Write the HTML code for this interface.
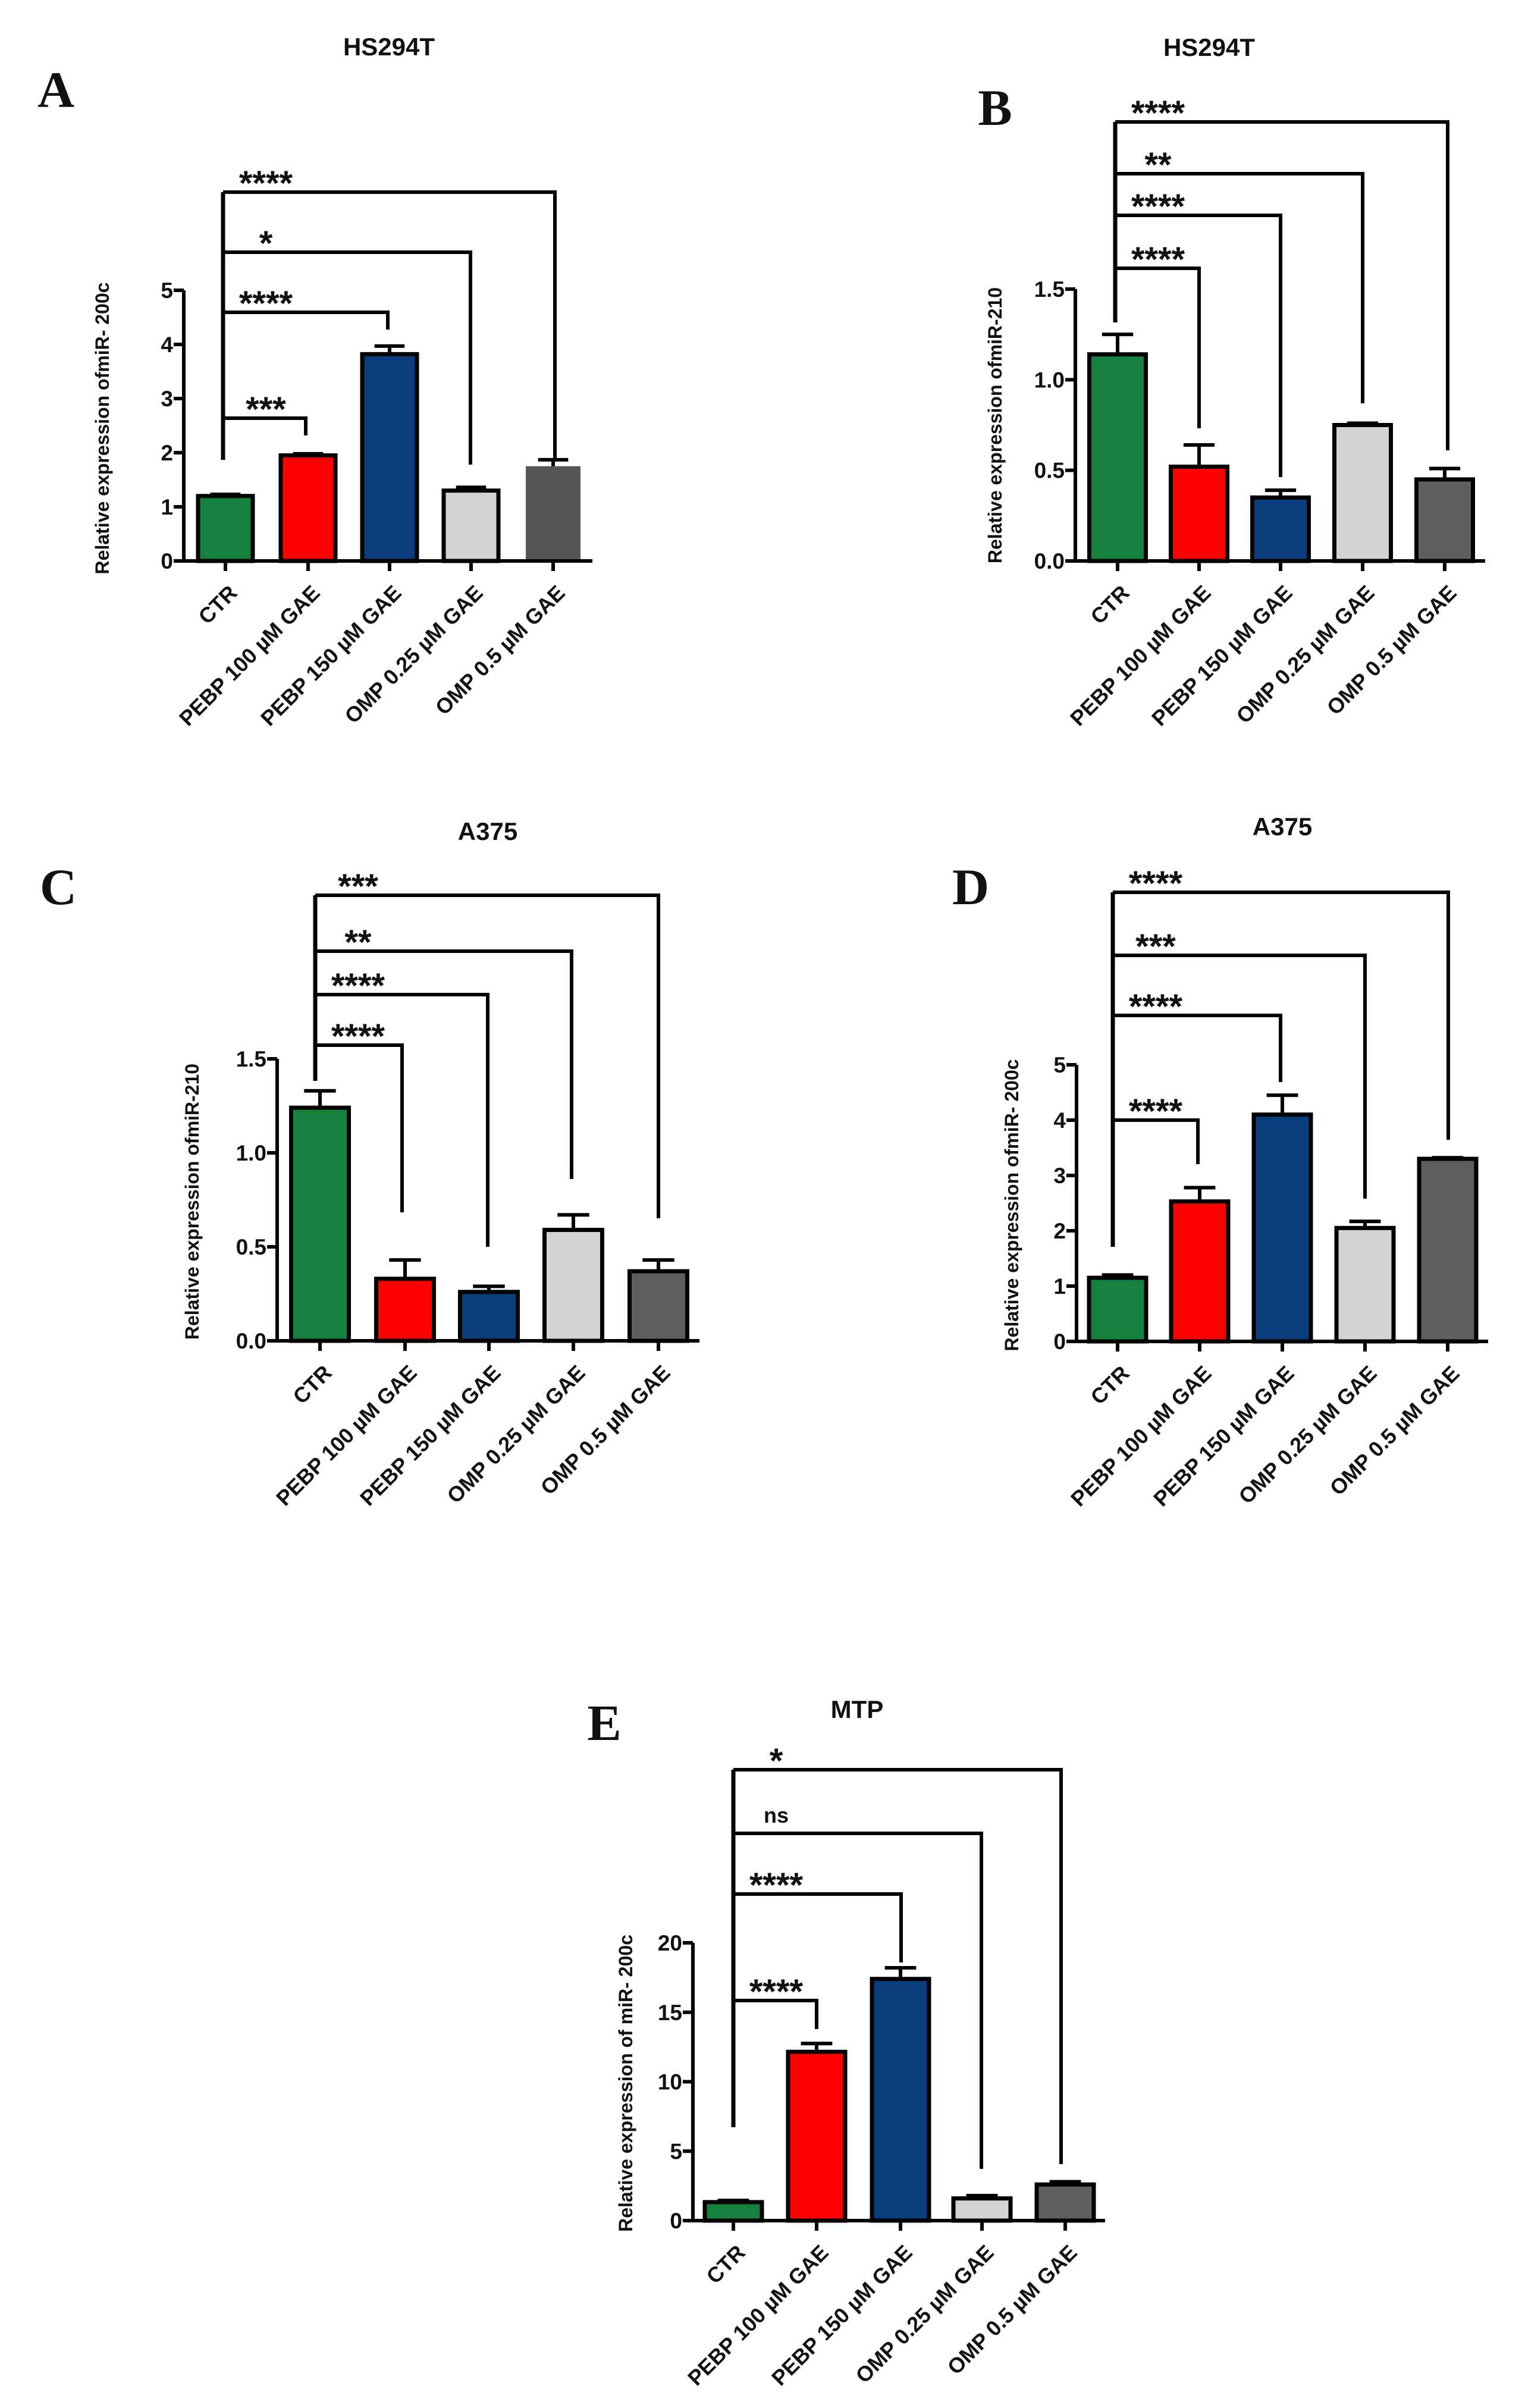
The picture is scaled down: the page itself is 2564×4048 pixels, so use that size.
<!DOCTYPE html>
<html><head><meta charset="utf-8"><style>
html,body{margin:0;padding:0;background:#fff;}
svg{display:block;}
text{font-family:"Liberation Sans",Arial,sans-serif;font-weight:bold;fill:#111;}
.letter{font-family:"Liberation Serif","DejaVu Serif",serif;font-weight:bold;}
</style></head><body>
<svg id="fig" width="2564" height="4048" viewBox="0 0 2564 4048" xmlns="http://www.w3.org/2000/svg"></svg>
<script>
// ---- data ----
const categories = ["CTR","PEBP 100 \u00b5M GAE","PEBP 150 \u00b5M GAE","OMP 0.25 \u00b5M GAE","OMP 0.5 \u00b5M GAE"];
const aValues = [1.2, 1.95, 3.82, 1.3, 1.75];
const aErrors = [0.03, 0.03, 0.15, 0.06, 0.12];
const bValues = [1.14, 0.52, 0.35, 0.75, 0.45];
const bErrors = [0.11, 0.12, 0.04, 0.01, 0.06];
const cValues = [1.24, 0.33, 0.26, 0.59, 0.37];
const cErrors = [0.09, 0.10, 0.03, 0.08, 0.06];
const dValues = [1.15, 2.53, 4.1, 2.05, 3.3];
const dErrors = [0.05, 0.25, 0.35, 0.12, 0.02];
const eValues = [1.33, 12.15, 17.4, 1.6, 2.6];
const eErrors = [0.12, 0.6, 0.8, 0.2, 0.2];
const ticks5 = [0,1,2,3,4,5];
const ticks5Labels = ["0","1","2","3","4","5"];
const ticks15 = [0,0.5,1.0,1.5];
const ticks15Labels = ["0.0","0.5","1.0","1.5"];
const ticks20 = [0,5,10,15,20];
const ticks20Labels = ["0","5","10","15","20"];
const aSig = ["***","****","*","****"];
const bSig = ["****","****","**","****"];
const cSig = ["****","****","**","***"];
const dSig = ["****","****","***","****"];
const eSig = ["****","****","ns","*"];

const colors = ["#16803f","#ff0000","#0b3d7e","#d4d4d4","#5f5f5f"];

// ---- layout ----
const panels = [
 {id:"a", letter:"A", lx:94, ly:180, title:"HS294T", tx:654, ty:93,
  axX:309, y0:943, yTop:488, yMax:5, xEnd:996,
  centers:[379,518,655,792,930], bw:92,
  vals:aValues, errs:aErrors, ticks:ticks5, tickLabels:ticks5Labels,
  ytitle:"Relative expression ofmiR- 200c", ytx:172, yty:720,
  sig:aSig, bl:375, br:[[703,514,732],[525,652,554],[424,791,781],[323,933,773]], lb:773, noBorderLast:true},
 {id:"b", letter:"B", lx:1673, ly:210, title:"HS294T", tx:2033, ty:94,
  axX:1808, y0:943, yTop:486, yMax:1.5, xEnd:2497,
  centers:[1879,2016,2153,2291,2429], bw:95,
  vals:bValues, errs:bErrors, ticks:ticks15, tickLabels:ticks15Labels,
  ytitle:"Relative expression ofmiR-210", ytx:1673, yty:715,
  sig:bSig, bl:1875, br:[[451,2016,720],[362,2153,802],[292,2291,678],[205,2434,757]], lb:542},
 {id:"c", letter:"C", lx:98, ly:1520, title:"A375", tx:820, ty:1412,
  axX:466, y0:2254, yTop:1780, yMax:1.5, xEnd:1176,
  centers:[538,681,822,964,1107], bw:97,
  vals:cValues, errs:cErrors, ticks:ticks15, tickLabels:ticks15Labels,
  ytitle:"Relative expression ofmiR-210", ytx:323, yty:2020,
  sig:cSig, bl:530, br:[[1757,676,2038],[1672,820,2096],[1599,961,1982],[1505,1107,2048]], lb:1817},
 {id:"d", letter:"D", lx:1632, ly:1520, title:"A375", tx:2156, ty:1404,
  axX:1810, y0:2255, yTop:1790, yMax:5, xEnd:2502,
  centers:[1879,2017,2156,2295,2434], bw:96,
  vals:dValues, errs:dErrors, ticks:ticks5, tickLabels:ticks5Labels,
  ytitle:"Relative expression ofmiR- 200c", ytx:1701, yty:2026,
  sig:dSig, bl:1871, br:[[1883,2014,1957],[1707,2153,1819],[1606,2295,2015],[1500,2435,1916]], lb:2096},
 {id:"e", letter:"E", lx:1016, ly:2925, title:"MTP", tx:1441, ty:2888,
  axX:1165, y0:3733, yTop:3266, yMax:20, xEnd:1858,
  centers:[1233,1373,1514,1651,1791], bw:96,
  vals:eValues, errs:eErrors, ticks:ticks20, tickLabels:ticks20Labels,
  ytitle:"Relative expression of miR- 200c", ytx:1052, yty:3502,
  sig:eSig, bl:1233, br:[[3363,1373,3411],[3184,1515,3299],[3082,1650,3646],[2975,1784,3638]], lb:3576}
];

const svg = document.getElementById('fig');
const NS = "http://www.w3.org/2000/svg";
function mk(tag, attrs, parent){
  const el = document.createElementNS(NS, tag);
  for (const k in attrs) el.setAttribute(k, attrs[k]);
  parent.appendChild(el);
  return el;
}

panels.forEach(function(p){
  const g = mk('g', {}, svg);
  
  
  const yS = function(v){ return p.y0 - (v / p.yMax) * (p.y0 - p.yTop); };

  const L = mk('text', {x:p.lx, y:p.ly, 'font-size':86, 'text-anchor':'middle', class:'letter'}, g);
  L.textContent = p.letter;
  
  

  const T = mk('text', {x:p.tx, y:p.ty, 'font-size':42, 'text-anchor':'middle'}, g);
  T.textContent = p.title;
  
  

  const YT = mk('text', {x:p.ytx, y:p.yty, 'font-size':32, 'text-anchor':'middle', 'dominant-baseline':'central', transform:'rotate(-90 '+p.ytx+' '+p.yty+')'}, g);
  YT.textContent = p.ytitle;
  
  

  // bars
  p.vals.forEach(function(v, i){
    const cx = p.centers[i];
    const top = yS(v);
    const noB = p.noBorderLast && i === 4;
    const r = mk('rect', {x:cx - p.bw/2, y:top, width:p.bw, height:p.y0 - top, fill: noB ? '#555555' : colors[i], stroke: noB ? 'none' : '#000', 'stroke-width':7}, g);
    
    
    const et = yS(v + p.errs[i]);
    const cap = p.bw * 0.55;
    const e = mk('path', {d:'M'+cx+' '+top+' V'+et+' M'+(cx-cap/2)+' '+et+' H'+(cx+cap/2), stroke:'#000', 'stroke-width':6, fill:'none'}, g);
    
    
  });

  // axes
  const ax = mk('path', {d:'M'+p.axX+' '+p.yTop+' V'+p.y0+' H'+p.xEnd, stroke:'#000', 'stroke-width':6, fill:'none'}, g);
  
  

  p.ticks.forEach(function(t, i){
    const y = yS(t);
    const tk = mk('line', {x1:p.axX-17, x2:p.axX, y1:y, y2:y, stroke:'#000', 'stroke-width':6}, g);
    
    
    const tl = mk('text', {x:p.axX-18, y:y+13, 'font-size':37, 'text-anchor':'end'}, g);
    tl.textContent = p.tickLabels[i];
    
    
  });

  categories.forEach(function(c, i){
    const cx = p.centers[i];
    const tk = mk('line', {x1:cx, x2:cx, y1:p.y0, y2:p.y0+17, stroke:'#000', 'stroke-width':6}, g);
    
    
    const x = cx + 22, y = p.y0 + 56;
    const tl = mk('text', {x:x, y:y, 'font-size':36, 'text-anchor':'end', transform:'rotate(-45 '+x+' '+y+')'}, g);
    tl.textContent = c;
    
    
  });

  // significance brackets
  const topLevel = Math.min.apply(null, p.br.map(function(b){return b[0];}));
  const lv = mk('line', {x1:p.bl, x2:p.bl, y1:topLevel, y2:p.lb, stroke:'#000', 'stroke-width':7}, g);
  
  
  p.br.forEach(function(b, i){
    const br = mk('path', {d:'M'+p.bl+' '+b[0]+' H'+b[1]+' V'+b[2], stroke:'#000', 'stroke-width':6, fill:'none'}, g);
    
    
    const lab = mk('text', {x:p.bl + 72, y:b[0] - 28 + (p.sig[i]==='ns' ? 10 : 33), 'font-size': p.sig[i]==='ns' ? 36 : 58, 'text-anchor':'middle'}, g);
    lab.textContent = p.sig[i];
    
    
  });
});
</script>
</body></html>
